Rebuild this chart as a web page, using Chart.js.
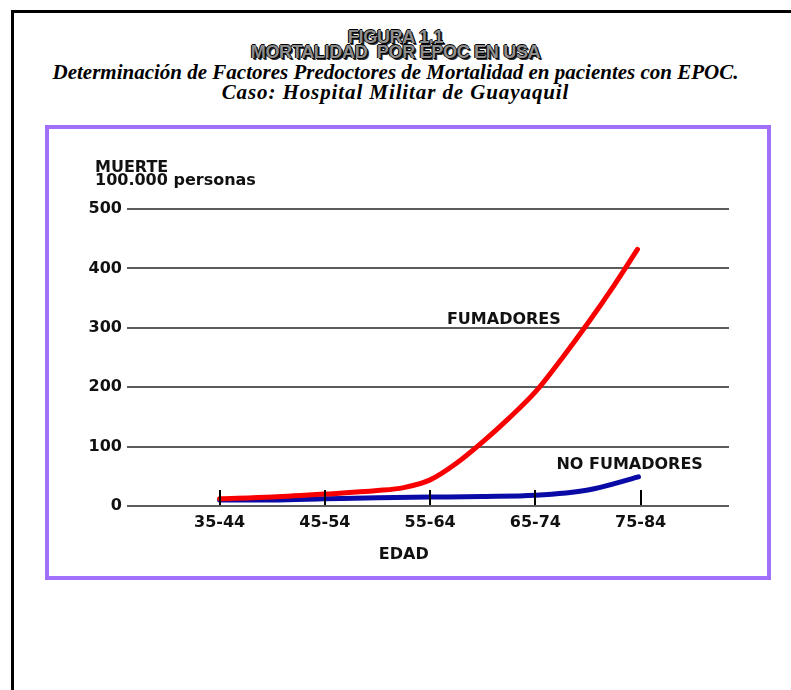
<!DOCTYPE html>
<html>
<head>
<meta charset="utf-8">
<script src="https://cdn.jsdelivr.net/npm/chart.js@4/dist/chart.umd.min.js"></script>
<style>
  body { margin: 0; background: #fff; width: 791px; height: 690px; overflow: hidden; position: relative; }
  .frame { position: absolute; left: 11px; top: 10px; width: 800px; height: 700px;
           border-top: 3px solid #000; border-left: 3px solid #000; }
  .fig { position: absolute; left: 0; width: 791px; text-align: center;
         font-family: "Liberation Sans", Arial, sans-serif; font-weight: bold; font-size: 18px;
         color: #8e8e8e; letter-spacing: -0.3px; line-height: 15px;
         text-shadow: -1px 0 0 #000, 0 -1px 0 #000, 1px 1px 0 #000, 2px 2px 0 #333; }
  .sub { position: absolute; left: 0; width: 791px; text-align: center;
         font-family: "Liberation Serif", "Times New Roman", serif; font-weight: bold; font-style: italic;
         font-size: 21px; color: #000; line-height: 20px; }
  .box { position: absolute; left: 45px; top: 125px; width: 718px; height: 447px;
         border: 4px solid #a070fb; }
  #chart { position: absolute; left: 49px; top: 129px; }
</style>
</head>
<body>
<div class="frame"></div>
<div class="fig" style="top:30px">FIGURA 1.1</div>
<div class="fig" style="top:45px">MORTALIDAD&nbsp; POR EPOC EN USA</div>
<div class="sub" style="top:62px">Determinación de Factores Predoctores de Mortalidad en pacientes con EPOC.</div>
<div class="sub" style="top:82px; letter-spacing:0.9px">Caso: Hospital Militar de Guayaquil</div>
<div class="box"></div>
<canvas id="chart" width="718" height="447" style="width:718px;height:447px"></canvas>
<script>
// age groups along the x axis
const ageGroups = ["35-44", "45-54", "55-64", "65-74", "75-84"];
const yTicks = [0, 100, 200, 300, 400, 500];

// (x = position along the age groups)
const smokersX = [0, 0.5, 1, 1.5, 1.75, 2, 2.25, 2.5, 2.75, 3, 3.25, 3.5, 3.75, 3.97];
const smokersY = [12, 15, 20, 26, 31, 44, 72, 108, 148, 192, 248, 308, 372, 432];
const nonSmokersX = [0, 0.5, 1, 1.5, 2, 2.5, 3, 3.5, 3.98];
const nonSmokersY = [10, 10, 12, 14, 15, 16, 18, 27, 49];

const FONT = "DejaVu Sans";

const toPoints = (xs, ys) => xs.map((x, i) => ({ x, y: ys[i] }));

// tick marks, labels and the axis titles drawn on top
const overlay = {
  id: "overlay",
  afterDatasetsDraw(chart) {
    const { ctx, chartArea, scales } = chart;
    const xs = scales.x, ys = scales.y;
    ctx.save();
    ctx.strokeStyle = "#000";
    ctx.lineWidth = 2;
    ageGroups.forEach((_, i) => {
      const px = Math.round(xs.getPixelForValue(i));
      ctx.beginPath();
      ctx.moveTo(px, ys.getPixelForValue(0) - 1);
      ctx.lineTo(px, ys.getPixelForValue(0) - 16);
      ctx.stroke();
    });

    ctx.fillStyle = "#111";
    ctx.font = `bold 16px "${FONT}"`;
    ctx.textBaseline = "middle";
    ctx.textAlign = "left";
    ctx.fillText("FUMADORES", xs.getPixelForValue(2.16), ys.getPixelForValue(314));
    ctx.fillText("NO FUMADORES", xs.getPixelForValue(3.2), ys.getPixelForValue(69));
    ctx.fillText("MUERTE", chartArea.left - 32, chartArea.top - 41);
    ctx.fillText("100.000 personas", chartArea.left - 32, chartArea.top - 28);
    ctx.textAlign = "center";
    ctx.fillText("EDAD", xs.getPixelForValue(1.75), chartArea.bottom + 49);
    ctx.restore();
  }
};

new Chart(document.getElementById("chart"), {
  type: "line",
  data: {
    datasets: [
      {
        label: "FUMADORES",
        data: toPoints(smokersX, smokersY),
        borderColor: "#f80000",
        borderWidth: 5,
        pointRadius: 0,
        cubicInterpolationMode: "monotone",
        borderCapStyle: "round"
      },
      {
        label: "NO FUMADORES",
        data: toPoints(nonSmokersX, nonSmokersY),
        borderColor: "#0a0aa6",
        borderWidth: 5,
        pointRadius: 0,
        cubicInterpolationMode: "monotone",
        borderCapStyle: "round"
      }
    ]
  },
  options: {
    responsive: false,
    animation: false,
    events: [],
    layout: { padding: { left: 0, top: 80, right: 38, bottom: 0 } },
    plugins: { legend: { display: false }, tooltip: { enabled: false } },
    scales: {
      x: {
        type: "linear",
        min: -0.88,
        max: 4.84,
        grid: { display: false },
        border: { display: false },
        afterBuildTicks: s => { s.ticks = ageGroups.map((_, i) => ({ value: i })); },
        afterFit: s => { s.height = 70; },
        ticks: {
          autoSkip: false,
          maxRotation: 0,
          padding: -1,
          color: "#111",
          font: { family: FONT, size: 16, weight: "bold" },
          callback: v => ageGroups[v]
        }
      },
      y: {
        min: 0,
        max: 500,
        afterBuildTicks: s => { s.ticks = yTicks.map(v => ({ value: v })); },
        afterFit: s => { s.width = 78; },
        grid: { color: "#5c5c5c", lineWidth: 2, drawTicks: false },
        border: { display: false },
        ticks: {
          padding: 5,
          color: "#111",
          font: { family: FONT, size: 16, weight: "bold" }
        }
      }
    }
  },
  plugins: [overlay]
});
</script>
</body>
</html>
